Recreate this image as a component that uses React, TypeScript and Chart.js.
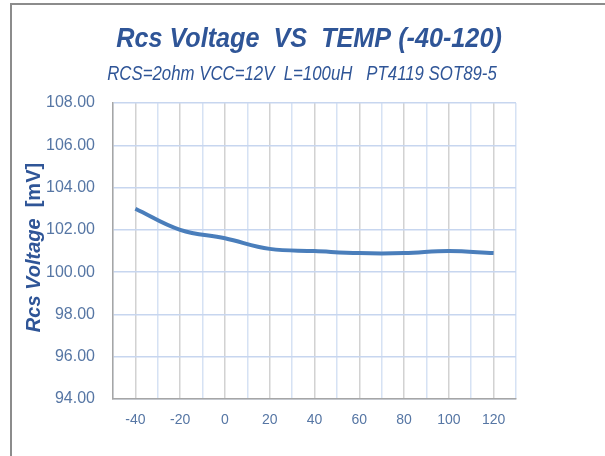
import React, { useEffect, useRef } from "react";
import { Chart, registerables } from "chart.js";

Chart.register(...registerables);

const temps = [-40, -20, 0, 20, 40, 60, 80, 100, 120];
const voltages = [103.0, 102.0, 101.6, 101.1, 101.0, 100.9, 100.9, 101.0, 100.9];
const xLabelValues = [-40, -20, 0, 20, 40, 60, 80, 100, 120];
const yMin = 94;
const yMax = 108;
const yStep = 2;
const xMin = -50;
const xMax = 130;
const xStep = 10;

const titleText = "Rcs Voltage  VS  TEMP (-40-120)";
const subtitleText = "RCS=2ohm VCC=12V  L=100uH   PT4119 SOT89-5";
const yTitleMain = "Rcs Voltage";
const yTitleUnit = "  [mV]";

const FONT = '"Liberation Sans", "DejaVu Sans", sans-serif';
const TITLE_COLOR = "#2f5597";
const TICK_COLOR = "#5676a4";
const LINE_COLOR = "#4a7ebb";

function drawScaled(ctx: any, text: string, font: string, cx: number, baseY: number, sx: number) {
  ctx.save();
  ctx.font = font;
  ctx.textAlign = "center";
  ctx.textBaseline = "alphabetic";
  ctx.translate(cx, baseY);
  ctx.scale(sx, 1);
  ctx.fillText(text, 0, 0);
  ctx.restore();
}

const decorPlugin = {
  id: "decor",
  beforeDraw(chart: any) {
    const ctx = chart.ctx;
    ctx.save();
    ctx.fillStyle = "#ffffff";
    ctx.fillRect(0, 0, chart.width, chart.height);
    ctx.strokeStyle = "#8c8c8c";
    ctx.lineWidth = 2;
    ctx.beginPath();
    ctx.moveTo(11, chart.height);
    ctx.lineTo(11, 4);
    ctx.lineTo(chart.width, 4);
    ctx.stroke();
    ctx.restore();
  },
  afterDraw(chart: any) {
    const ctx = chart.ctx;
    ctx.save();
    ctx.fillStyle = TITLE_COLOR;
    drawScaled(ctx, titleText, `italic bold 28px ${FONT}`, 309, 47, 0.9);
    drawScaled(ctx, subtitleText, `italic 20px ${FONT}`, 302, 80, 0.84);

    // y axis title
    ctx.translate(40, 247.5);
    ctx.rotate(-Math.PI / 2);
    ctx.textBaseline = "alphabetic";
    ctx.font = `italic bold 20px ${FONT}`;
    const w1 = ctx.measureText(yTitleMain).width;
    ctx.font = `bold 20px ${FONT}`;
    const w2 = ctx.measureText(yTitleUnit).width;
    const start = -(w1 + w2) / 2;
    ctx.textAlign = "left";
    ctx.font = `italic bold 20px ${FONT}`;
    ctx.fillText(yTitleMain, start, 0);
    ctx.font = `bold 20px ${FONT}`;
    ctx.fillText(yTitleUnit, start + w1, 0);
    ctx.restore();
  },
};

export default function App() {
  const ref = useRef<HTMLCanvasElement | null>(null);

  useEffect(() => {
    if (!ref.current) return;
    const chart = new Chart(ref.current, {
      type: "line",
      data: {
        datasets: [
          {
            label: "Rcs Voltage",
            data: temps.map((t, i) => ({ x: t, y: voltages[i] })),
            borderColor: LINE_COLOR,
            backgroundColor: LINE_COLOR,
            borderWidth: 4,
            pointRadius: 0,
            tension: 0.4,
            fill: false,
          },
        ],
      },
      options: {
        responsive: false,
        animation: false,
        layout: { padding: { left: 0, right: 89, top: 103, bottom: 0 } },
        plugins: {
          legend: { display: false },
          title: { display: false },
          tooltip: { enabled: false },
        },
        scales: {
          x: {
            type: "linear",
            min: xMin,
            max: xMax,
            afterFit: (s: any) => {
              s.height = 57;
            },
            ticks: {
              stepSize: xStep,
              autoSkip: false,
              maxRotation: 0,
              padding: 13,
              color: TICK_COLOR,
              font: { family: FONT, size: 14 },
              callback: (v: any) => (xLabelValues.includes(Number(v)) ? String(v) : ""),
            },
            grid: {
              drawTicks: false,
              color: (c: any) =>
                c.tick && xLabelValues.includes(c.tick.value) ? "#d2d2d2" : "#d6e2f4",
              lineWidth: 1.5,
            },
            border: { color: "#a6a6a6", width: 1.5 },
          },
          y: {
            type: "linear",
            min: yMin,
            max: yMax,
            afterFit: (s: any) => {
              s.width = 113;
            },
            ticks: {
              stepSize: yStep,
              padding: 18,
              color: TICK_COLOR,
              font: { family: FONT, size: 16 },
              callback: (v: any) => Number(v).toFixed(2),
            },
            grid: {
              drawTicks: false,
              color: "#c7d6ef",
              lineWidth: 1.5,
            },
            border: { color: "#a6a6a6", width: 1.5 },
          },
        },
      },
      plugins: [decorPlugin],
    });
    return () => chart.destroy();
  }, []);

  return (
    <div style={{ position: "fixed", left: 0, top: 0, width: 605, height: 456 }}>
      <canvas ref={ref} width={605} height={456} />
    </div>
  );
}
